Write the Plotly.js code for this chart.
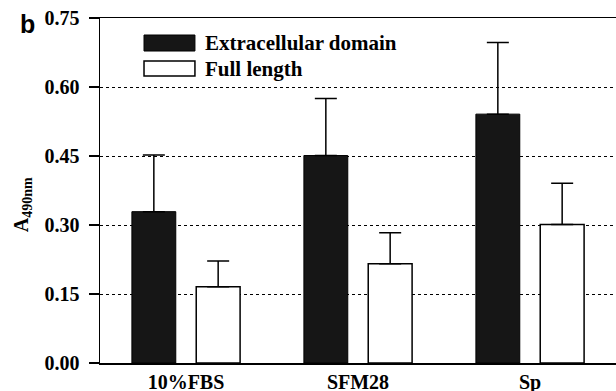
<!DOCTYPE html>
<html>
<head>
<meta charset="utf-8">
<script src="https://cdn.plot.ly/plotly-3.0.1.min.js"></script>
<style>html,body{margin:0;padding:0;background:#fff;}#chart{width:616px;height:391px;}</style>
</head>
<body>
<div id="chart"></div>
<script>
const categories = ["10%FBS", "SFM28", "Sp"];
const seriesNames = ["Extracellular domain", "Full length"];
const extracellular = [0.329, 0.451, 0.541];
const extracellularErr = [0.123, 0.124, 0.156];
const fullLength = [0.166, 0.216, 0.301];
const fullLengthErr = [0.056, 0.067, 0.090];
const yTicks = [0.00, 0.15, 0.30, 0.45, 0.60, 0.75];
const yTickLabels = ["0.00", "0.15", "0.30", "0.45", "0.60", "0.75"];
const yTitleMain = "A";
const yTitleSub = "490nm";
const panelLabel = "b";

const serif = "Liberation Serif";

const traces = [
  {
    type: "bar", name: seriesNames[0], x: categories, y: extracellular,
    marker: {color: "#161616", line: {color: "#000", width: 1}},
    error_y: {type: "data", symmetric: false, array: extracellularErr,
              arrayminus: extracellular.map(() => 0), color: "#000", thickness: 1.5, width: 11},
    showlegend: false, hoverinfo: "skip"
  },
  {
    type: "bar", name: seriesNames[1], x: categories, y: fullLength,
    marker: {color: "#fff", line: {color: "#000", width: 1.5}},
    error_y: {type: "data", symmetric: false, array: fullLengthErr,
              arrayminus: fullLength.map(() => 0), color: "#000", thickness: 1.5, width: 11},
    showlegend: false, hoverinfo: "skip"
  }
];

const layout = {
  width: 616, height: 391,
  margin: {l: 100, r: 0, t: 18, b: 28},
  paper_bgcolor: "#fff", plot_bgcolor: "#fff",
  barmode: "group", bargap: 0.252, bargroupgap: 0.318,
  font: {family: serif, color: "#000"},
  xaxis: {
    showline: true, linecolor: "#000", linewidth: 1.5, mirror: true,
    ticks: "", showgrid: false, zeroline: false,
    tickvals: categories, ticktext: categories.map(c => "<b>" + c + "</b>"),
    tickfont: {family: serif, size: 20, color: "#000"},
    range: [-0.5, 2.5], fixedrange: true
  },
  yaxis: {
    range: [0, 0.75], tickvals: yTicks,
    ticktext: yTickLabels.map(t => "<b>" + t + "</b>\u00a0"),
    showline: true, linecolor: "#000", linewidth: 1.5,
    ticks: "outside", ticklen: 10, tickwidth: 1.5, tickcolor: "#000",
    showgrid: true, gridcolor: "#000", gridwidth: 1, griddash: "dot",
    zeroline: false,
    tickfont: {family: serif, size: 20, color: "#000"},
    fixedrange: true
  },
  shapes: [
    {type: "rect", xref: "paper", yref: "paper", x0: 0.0853, x1: 0.184, y0: 0.9043, y1: 0.9507,
     fillcolor: "#161616", line: {color: "#000", width: 1}},
    {type: "rect", xref: "paper", yref: "paper", x0: 0.0853, x1: 0.184, y0: 0.8319, y1: 0.8754,
     fillcolor: "#fff", line: {color: "#000", width: 1.5}}
  ],
  annotations: [
    {xref: "paper", yref: "paper", x: 0.1996, y: 0.9275, xanchor: "left", yanchor: "middle",
     text: "<b>" + seriesNames[0] + "</b>", showarrow: false, font: {family: serif, size: 21, color: "#000"}},
    {xref: "paper", yref: "paper", x: 0.1996, y: 0.8536, xanchor: "left", yanchor: "middle",
     text: "<b>" + seriesNames[1] + "</b>", showarrow: false, font: {family: serif, size: 21, color: "#000"}},
    {xref: "paper", yref: "paper", x: -0.177, y: 0.458,
     textangle: -90,
     text: "<b>" + yTitleMain + "<sub>" + yTitleSub + "</sub></b>",
     showarrow: false,
     font: {family: serif, size: 20, color: "#000"}},
    {xref: "paper", yref: "paper", x: -0.159, y: 0.983, xanchor: "left", yanchor: "middle",
     text: "<b>" + panelLabel + "</b>", showarrow: false, font: {family: "Liberation Sans", size: 25, color: "#000"}}
  ]
};

Plotly.newPlot("chart", traces, layout, {displayModeBar: false, staticPlot: true});
</script>
</body>
</html>
